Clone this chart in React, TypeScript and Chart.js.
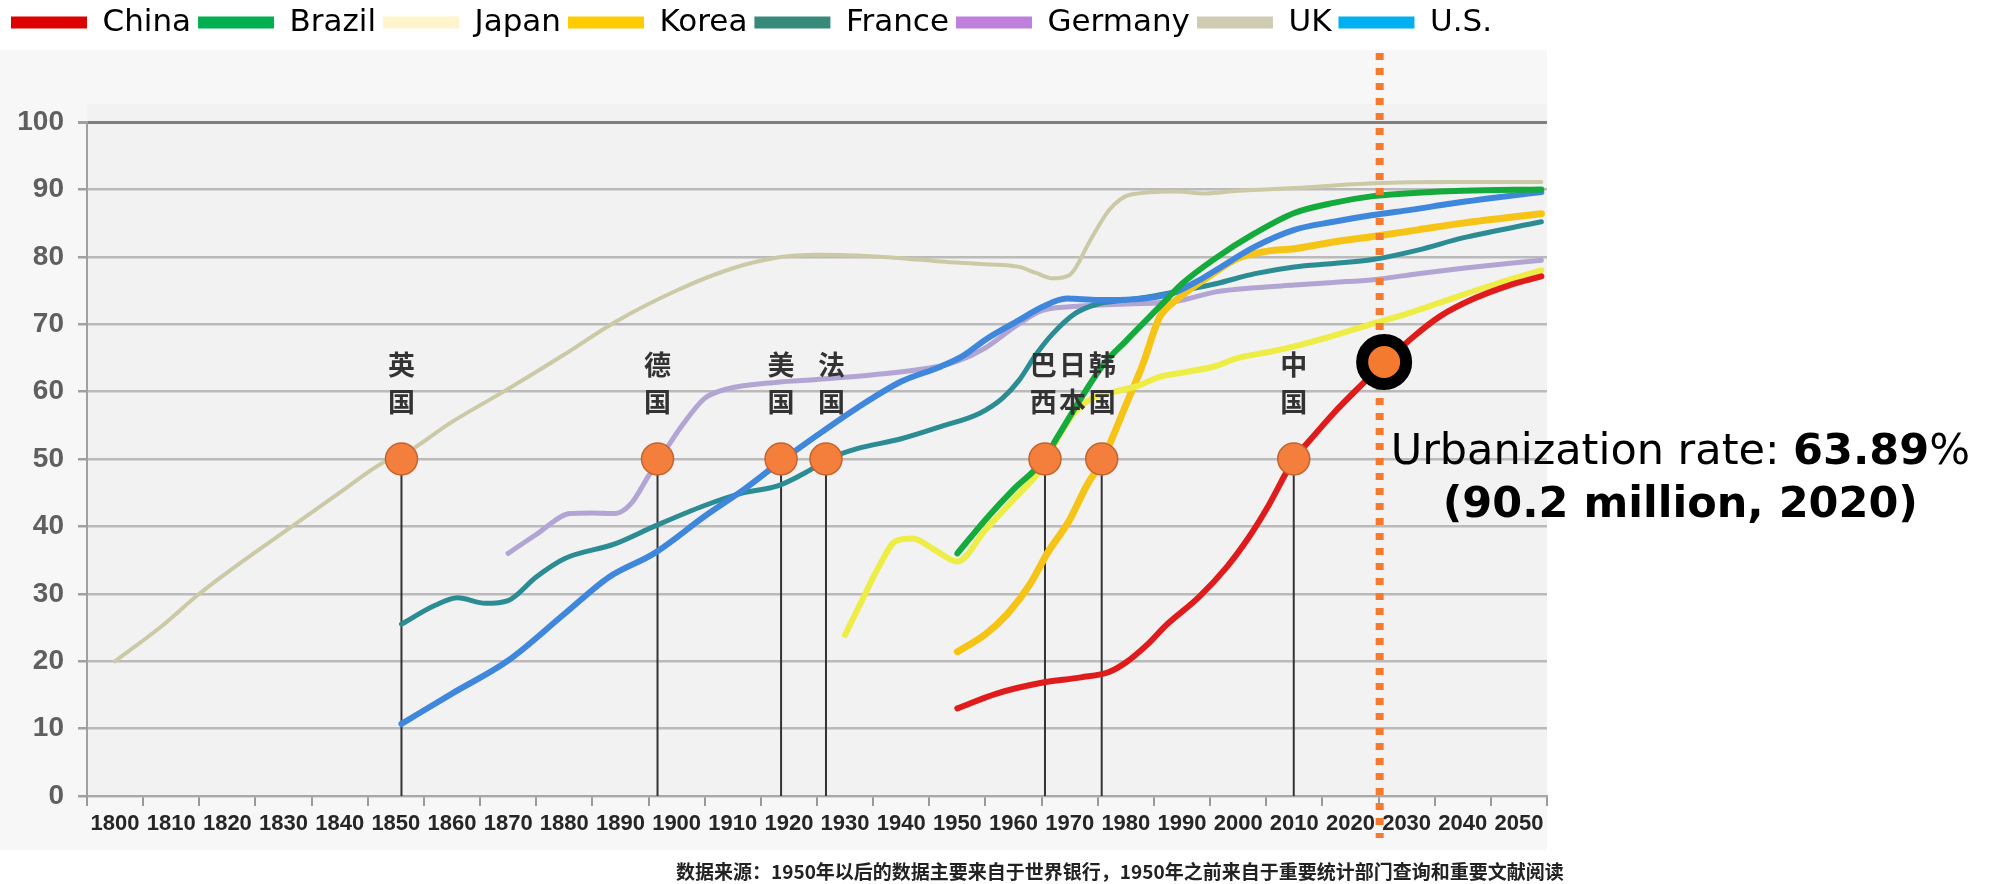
import React, { useEffect, useRef } from 'react';
import { Chart, registerables } from 'chart.js';

Chart.register(...registerables);

const W = 1992;
const H = 884;

const seriesLabels = ['China', 'Brazil', 'Japan', 'Korea', 'France', 'Germany', 'UK', 'U.S.'];

const chinaPoints = [
  [1950, 13.0], [1957, 15.2], [1965, 16.8], [1972, 17.6], [1977, 18.4], [1980, 19.8], [1984, 22.6],
  [1987, 25.2], [1993, 29.5], [1998, 34.0], [2002, 38.5], [2005, 42.5], [2010, 50.0], [2013, 53.0],
  [2017, 56.8], [2021, 60.2], [2026, 64.2], [2031, 68.0], [2036, 71.2], [2042, 73.8], [2048, 75.7], [2054, 77.1],
];
const brazilPoints = [
  [1950, 36.0], [1955, 41.0], [1960, 45.5], [1965, 49.5], [1968, 53.5], [1972, 59.0], [1976, 64.0],
  [1980, 67.5], [1986, 72.6], [1990, 76.0], [1996, 79.8], [2003, 83.5], [2010, 86.5], [2017, 88.0],
  [2024, 89.0], [2032, 89.5], [2040, 89.8], [2054, 90.0],
];
const japanPoints = [
  [1930, 23.9], [1933, 29.0], [1936, 34.0], [1939, 37.8], [1942, 38.2], [1946, 36.5], [1950, 34.8],
  [1955, 39.5], [1960, 44.0], [1965, 48.6], [1968, 53.3], [1971, 57.0], [1974, 59.0], [1978, 60.0],
  [1982, 60.8], [1986, 62.2], [1990, 62.8], [1996, 63.8], [2000, 65.0], [2005, 65.8], [2010, 66.7],
  [2017, 68.3], [2024, 70.1], [2031, 71.8], [2038, 73.8], [2046, 76.0], [2054, 78.0],
];
const koreaPoints = [
  [1950, 21.4], [1955, 24.0], [1959, 27.1], [1963, 31.5], [1966, 36.0], [1970, 41.0], [1973, 46.0],
  [1975.5, 49.4], [1977, 52.0], [1980, 58.0], [1983, 64.0], [1986, 71.0], [1989, 73.6], [1995, 77.2],
  [2000, 79.8], [2005, 80.8], [2010, 81.2], [2017, 82.2], [2024, 83.0], [2032, 84.0], [2040, 85.0], [2054, 86.4],
];
const francePoints = [
  [1851, 25.5], [1857, 28.3], [1861, 29.4], [1866, 28.6], [1870, 29.0], [1875, 32.5], [1880, 35.2],
  [1889, 37.4], [1896, 40.0], [1905, 43.1], [1912, 45.0], [1918, 46.0], [1923, 48.0], [1927, 50.0],
  [1932, 51.5], [1940, 53.0], [1947, 54.8], [1954, 56.8], [1958, 59.0], [1961, 61.7], [1964, 65.5],
  [1967, 68.6], [1971, 71.6], [1975, 73.0], [1980, 73.6], [1985, 74.2], [1990, 75.0], [1996, 76.0],
  [2003, 77.5], [2010, 78.5], [2017, 79.0], [2024, 79.6], [2032, 81.0], [2040, 82.8], [2054, 85.2],
];
const germanyPoints = [
  [1870, 36.0], [1875, 38.8], [1881, 41.9], [1885, 42.0], [1889, 41.9], [1892, 43.5], [1895, 47.5],
  [1897, 50.0], [1901, 55.0], [1905, 59.0], [1909, 60.4], [1918, 61.4], [1925, 61.8], [1935, 62.5],
  [1945, 63.5], [1950, 64.5], [1955, 66.5], [1960, 69.5], [1965, 72.0], [1970, 72.6], [1980, 73.0],
  [1989, 73.4], [1996, 74.8], [2003, 75.4], [2010, 75.8], [2017, 76.2], [2024, 76.6], [2032, 77.5],
  [2040, 78.3], [2054, 79.5],
];
const ukPoints = [
  [1800, 20.0], [1808, 25.0], [1815, 30.0], [1823, 35.0], [1831, 39.7], [1840, 45.0], [1848, 49.6],
  [1851, 50.5], [1860, 55.5], [1870, 60.4], [1880, 65.5], [1889, 70.3], [1900, 75.0], [1910, 78.3],
  [1918, 79.9], [1925, 80.3], [1932, 80.2], [1940, 79.8], [1947, 79.3], [1955, 78.9], [1961, 78.5],
  [1964, 77.6], [1967, 76.8], [1970, 77.3], [1973.7, 82.5], [1977, 86.9], [1980.7, 89.2], [1989, 89.7],
  [1994, 89.4], [2000, 89.8], [2010, 90.2], [2024, 90.9], [2038, 91.1], [2054, 91.1],
];
const usPoints = [
  [1851, 10.7], [1860, 15.2], [1870, 20.1], [1880, 27.0], [1888, 32.5], [1896, 36.0], [1905, 41.5],
  [1912, 45.5], [1918, 49.3], [1925, 53.5], [1932, 57.5], [1940, 61.5], [1947, 63.7], [1951, 65.3],
  [1955, 67.7], [1961, 70.6], [1965, 72.5], [1969.5, 73.8], [1975, 73.6], [1979, 73.6], [1985, 74.0],
  [1989, 74.8], [1993, 76.5], [1996, 78.0], [2003, 81.5], [2010, 84.0], [2017, 85.2], [2024, 86.2],
  [2031, 87.0], [2038, 87.9], [2046, 88.8], [2054, 89.6],
];

const seriesPoints = [chinaPoints, brazilPoints, japanPoints, koreaPoints, francePoints, germanyPoints, ukPoints, usPoints];
const legendColors = ['#dd0000', '#00b050', '#fff5cc', '#ffcc00', '#368a7a', '#bf80dd', '#d0ccb4', '#00b0f0'];
const lineColors = ['#e01b1b', '#14aa3c', '#eded45', '#f6c416', '#2b8c94', '#b2a5d3', '#ccc9a6', '#3f87dc'];
const lineWidths = [6, 6, 6, 7, 5, 5, 4, 6];
const drawOrder = [0, 1, 2, 4, 5, 6, 7, 3];

const xTickYears = [1800, 1810, 1820, 1830, 1840, 1850, 1860, 1870, 1880, 1890, 1900, 1910, 1920,
  1930, 1940, 1950, 1960, 1970, 1980, 1990, 2000, 2010, 2020, 2030, 2040, 2050];
const yTickValues = [0, 10, 20, 30, 40, 50, 60, 70, 80, 90, 100];

const markerYears = [1851, 1896.6, 1918.6, 1926.6, 1965.6, 1975.7, 2009.9];
const markerLevel = 50;
const labelYears = [1851, 1896.6, 1918.6, 1927.6, 1965.3, 1970.5, 1975.8, 2009.9];
const labelTopChars = ['英', '德', '美', '法', '巴', '日', '韩', '中'];
const labelBottomChars = ['国', '国', '国', '国', '西', '本', '国', '国'];

const highlightYear = 2026;
const highlightValue = 64.4;
const dottedYear = 2025.2;

const noteLine1Parts = [
  { text: 'Urbanization rate: ', bold: false },
  { text: '63.89', bold: true },
  { text: '%', bold: false },
];
const noteLine2 = '(90.2 million, 2020)';
const sourceNote = '数据来源：1950年以后的数据主要来自于世界银行，1950年之前来自于重要统计部门查询和重要文献阅读';

const HIGHLIGHT_INDEX = seriesLabels.length + markerYears.length + 1;

const decoPlugin = {
  id: 'deco',
  beforeDraw(chart: any) {
    const { ctx, chartArea } = chart;
    ctx.save();
    ctx.fillStyle = '#ffffff';
    ctx.fillRect(0, 0, chart.width, chart.height);
    ctx.fillStyle = '#f7f7f7';
    ctx.fillRect(0, 50, chartArea.right, 800);
    ctx.fillStyle = '#f2f2f2';
    ctx.fillRect(chartArea.left, chartArea.top - 18, chartArea.right - chartArea.left, chartArea.bottom - chartArea.top + 18);
    ctx.restore();
  },
  beforeDatasetDraw(chart: any, args: any) {
    if (args.index !== HIGHLIGHT_INDEX) return;
    const { ctx } = chart;
    const x = chart.scales.x.getPixelForValue(dottedYear);
    ctx.save();
    ctx.strokeStyle = '#f47a30';
    ctx.lineWidth = 8;
    ctx.setLineDash([7, 8]);
    ctx.beginPath();
    ctx.moveTo(x, 53);
    ctx.lineTo(x, 838);
    ctx.stroke();
    ctx.restore();
  },
  afterDatasetsDraw(chart: any) {
    const { ctx } = chart;
    const xs = chart.scales.x;
    const ys = chart.scales.y;
    const baseY = ys.getPixelForValue(markerLevel);
    ctx.save();
    ctx.fillStyle = '#333333';
    ctx.font = "bold 27px 'Noto Sans CJK SC'";
    ctx.textAlign = 'center';
    ctx.textBaseline = 'middle';
    labelYears.forEach((yr, i) => {
      const x = xs.getPixelForValue(yr);
      ctx.fillText(labelTopChars[i], x, baseY - 94);
      ctx.fillText(labelBottomChars[i], x, baseY - 57);
    });
    ctx.restore();
  },
  afterDraw(chart: any) {
    const { ctx } = chart;
    const xs = chart.scales.x;
    const dx = xs.getPixelForValue(dottedYear);
    ctx.save();
    ctx.fillStyle = '#000000';
    ctx.textBaseline = 'alphabetic';
    ctx.textAlign = 'left';
    const fontFor = (b: boolean) => `${b ? 'bold ' : ''}43px 'DejaVu Sans'`;
    let total = 0;
    noteLine1Parts.forEach((p) => {
      ctx.font = fontFor(p.bold);
      total += ctx.measureText(p.text).width;
    });
    const left = dx + 11;
    const center = left + total / 2;
    let cx = left;
    noteLine1Parts.forEach((p) => {
      ctx.font = fontFor(p.bold);
      ctx.fillText(p.text, cx, 464);
      cx += ctx.measureText(p.text).width;
    });
    ctx.font = fontFor(true);
    ctx.textAlign = 'center';
    ctx.fillText(noteLine2, center, 517);

    ctx.textAlign = 'left';
    ctx.textBaseline = 'middle';
    ctx.fillStyle = '#222222';
    ctx.font = "bold 19px 'Noto Sans CJK SC'";
    ctx.fillText(sourceNote, 676, 872);
    ctx.restore();
  },
};

export default function App() {
  const canvasRef = useRef<HTMLCanvasElement | null>(null);

  useEffect(() => {
    const canvas = canvasRef.current;
    if (!canvas) return;

    const seriesDatasets = seriesLabels.map((label, i) => ({
      label,
      data: seriesPoints[i].map(([x, y]) => ({ x, y })),
      borderColor: lineColors[i],
      backgroundColor: legendColors[i],
      borderWidth: lineWidths[i],
      pointRadius: 0,
      pointHoverRadius: 0,
      tension: 0.4,
      cubicInterpolationMode: 'monotone',
      fill: false,
      order: drawOrder[i],
      borderCapStyle: 'round',
      borderJoinStyle: 'round',
    }));

    const stemDatasets = markerYears.map((yr) => ({
      label: '_stem',
      data: [{ x: yr, y: 0 }, { x: yr, y: markerLevel }],
      borderColor: '#333333',
      borderWidth: 2,
      pointRadius: 0,
      fill: false,
      order: 20,
    }));

    const markerDataset = {
      label: '_marker',
      data: markerYears.map((yr) => ({ x: yr, y: markerLevel })),
      showLine: false,
      pointRadius: 16,
      pointHoverRadius: 16,
      pointBackgroundColor: '#f47f3c',
      pointBorderColor: '#c4622d',
      pointBorderWidth: 1.5,
      order: -2,
    };

    const highlightDataset = {
      label: '_highlight',
      data: [{ x: highlightYear, y: highlightValue }],
      showLine: false,
      pointRadius: 22,
      pointHoverRadius: 22,
      pointBackgroundColor: '#f47a30',
      pointBorderColor: '#000000',
      pointBorderWidth: 12,
      order: -3,
      clip: false,
    };

    const xTicks: { value: number }[] = [];
    xTickYears.forEach((yr) => {
      xTicks.push({ value: yr - 5 });
      xTicks.push({ value: yr });
    });
    xTicks.push({ value: xTickYears[xTickYears.length - 1] + 5 });

    const chart = new Chart(canvas, {
      type: 'line',
      data: {
        datasets: [...seriesDatasets, ...stemDatasets, markerDataset, highlightDataset] as any,
      },
      options: {
        responsive: false,
        animation: false,
        events: [],
        layout: { padding: { left: 4, right: 445, top: 0, bottom: 0 } },
        plugins: {
          tooltip: { enabled: false },
          title: {
            display: true,
            text: ' ',
            font: { size: 10 },
            padding: { top: 0, bottom: 62 },
          },
          legend: {
            display: true,
            position: 'top',
            align: 'start',
            weight: 3000,
            labels: {
              boxWidth: 76,
              boxHeight: 12,
              padding: 7,
              color: '#000000',
              font: { family: "'DejaVu Sans'", size: 31 },
              generateLabels: (ch: any) => {
                const items = (Chart.defaults.plugins.legend.labels.generateLabels as any)(ch);
                return items
                  .filter((it: any) => it.datasetIndex < seriesLabels.length)
                  .sort((a: any, b: any) => a.datasetIndex - b.datasetIndex)
                  .map((it: any) => ({
                    ...it,
                    fillStyle: legendColors[it.datasetIndex],
                    strokeStyle: legendColors[it.datasetIndex],
                    lineWidth: 0,
                  }));
              },
            },
          } as any,
        },
        scales: {
          x: {
            type: 'linear',
            min: xTickYears[0] - 5,
            max: xTickYears[xTickYears.length - 1] + 5,
            afterBuildTicks: (s: any) => {
              s.ticks = xTicks.map((t) => ({ ...t }));
            },
            afterFit: (s: any) => {
              s.height = 88;
            },
            ticks: {
              autoSkip: false,
              maxRotation: 0,
              minRotation: 0,
              padding: 5,
              color: '#262626',
              font: { family: "'Liberation Sans', Arial", size: 22, weight: 'bold' },
              callback: (v: any) => (xTickYears.includes(Number(v)) ? String(v) : ''),
            },
            grid: {
              drawOnChartArea: false,
              drawTicks: true,
              tickLength: 10,
              lineWidth: 2,
              tickColor: (ctx: any) =>
                ctx.tick && xTickYears.includes(ctx.tick.value) ? 'rgba(0,0,0,0)' : '#9a9a9a',
            },
            border: { display: true, color: '#a8a8a8', width: 2 },
          },
          y: {
            min: 0,
            max: 100,
            afterBuildTicks: (s: any) => {
              s.ticks = yTickValues.map((v) => ({ value: v }));
            },
            afterFit: (s: any) => {
              s.width = 83;
            },
            ticks: {
              padding: 14,
              color: '#5f5f5f',
              font: { family: "'Liberation Sans', Arial", size: 28, weight: 'bold' },
            },
            grid: {
              color: (ctx: any) => (ctx.tick && ctx.tick.value === 100 ? '#808080' : '#bababa'),
              lineWidth: (ctx: any) => (ctx.tick && ctx.tick.value === 100 ? 3 : 2.5),
              tickLength: 9,
              tickColor: '#a0a0a0',
            },
            border: { display: true, color: '#a0a0a0', width: 2 },
          },
        },
      } as any,
      plugins: [decoPlugin],
    });

    return () => {
      chart.destroy();
    };
  }, []);

  return (
    <div style={{ position: 'absolute', left: 0, top: 0, width: W, height: H }}>
      <canvas ref={canvasRef} width={W} height={H} style={{ display: 'block', width: W, height: H }} />
    </div>
  );
}
